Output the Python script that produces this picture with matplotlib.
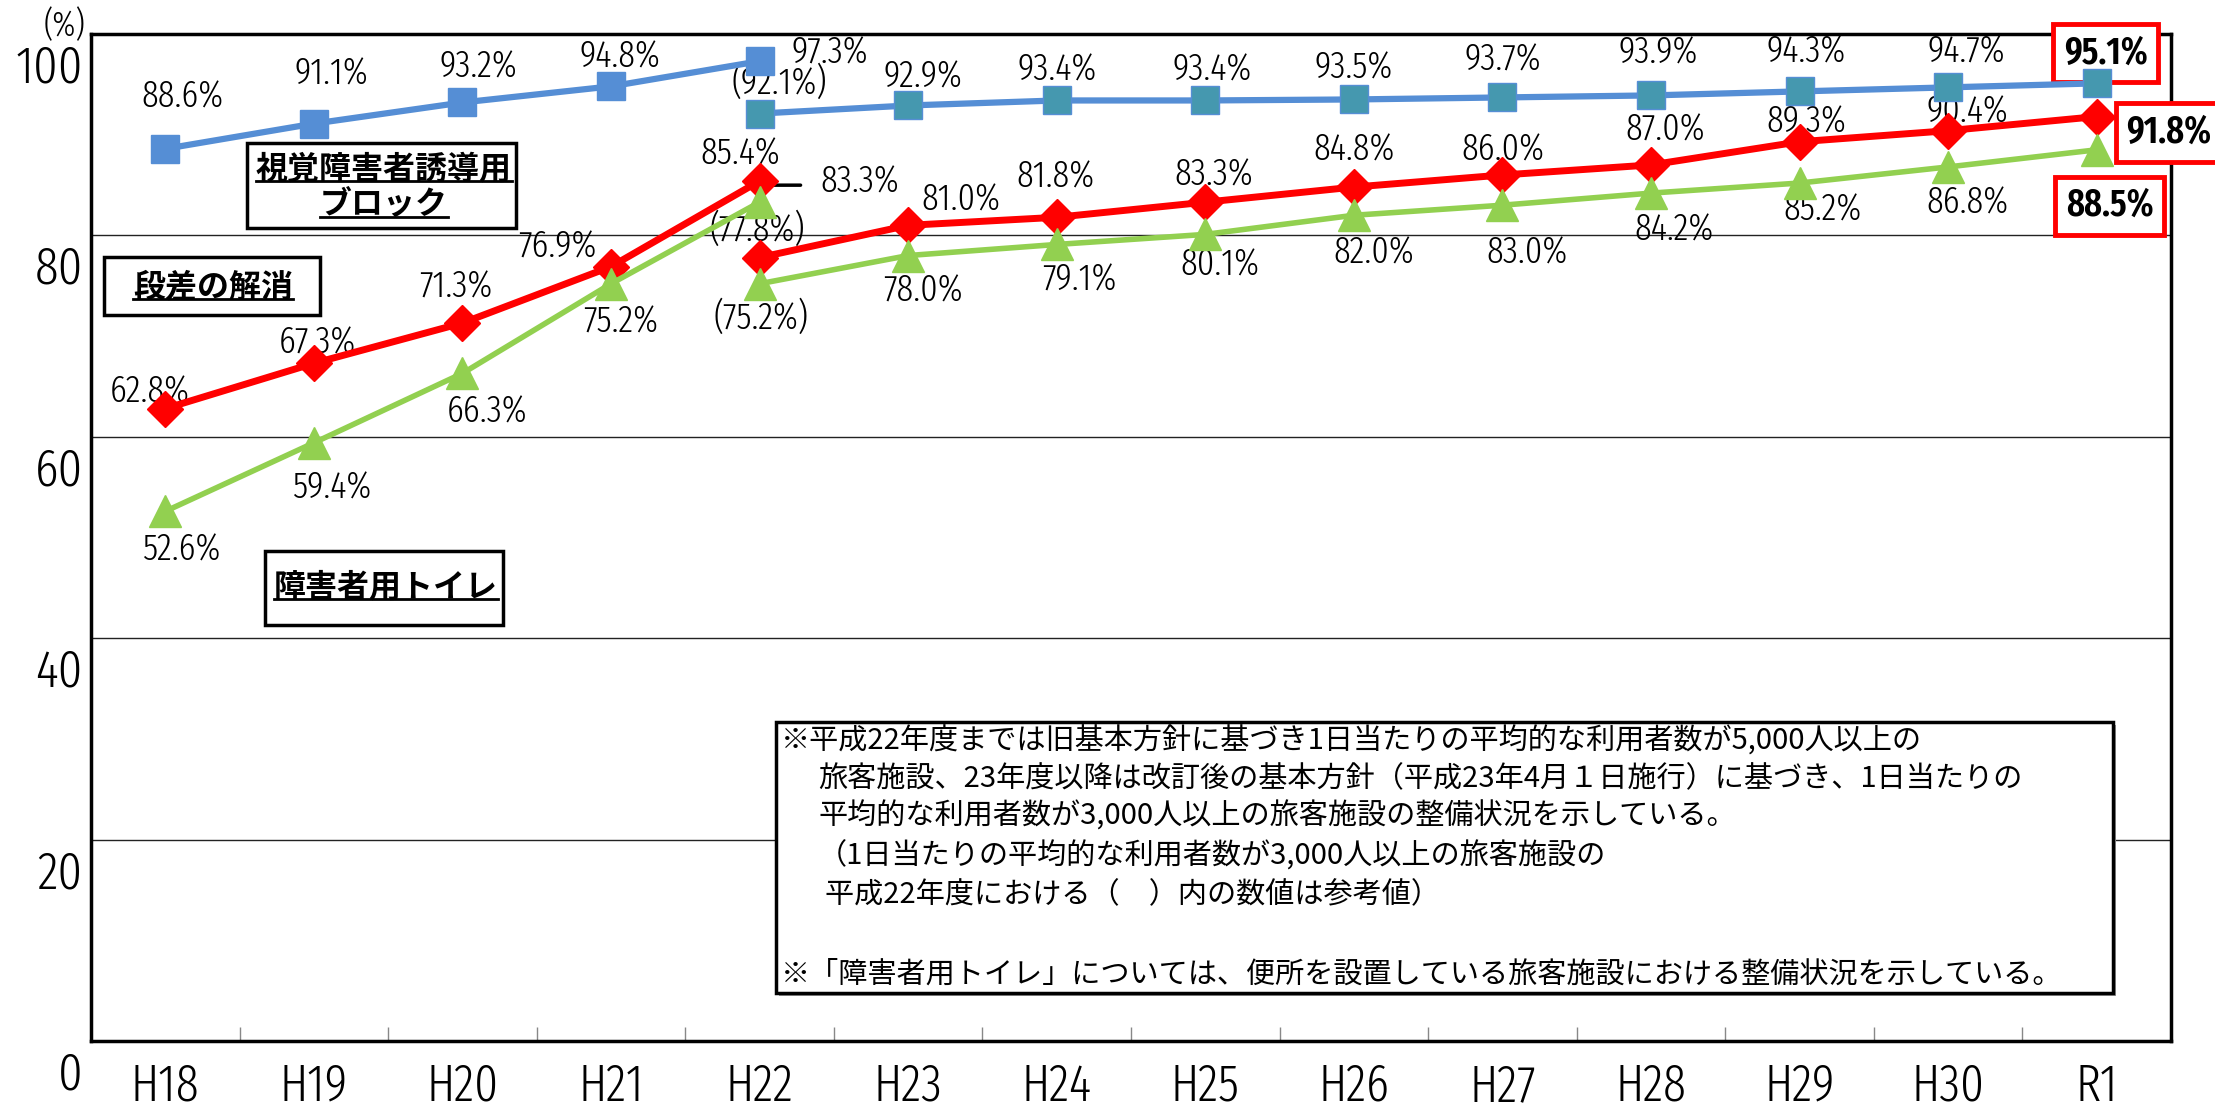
import matplotlib
matplotlib.use('Agg')
import matplotlib.pyplot as plt
import matplotlib.transforms as mtransforms
from matplotlib.patches import Rectangle
from matplotlib.lines import Line2D

# thin condensed face for the figures, CJK face for the Japanese text
plt.rcParams['font.family'] = ['Fira Sans Extra Condensed', 'Noto Sans CJK JP', 'DejaVu Sans']
plt.rcParams['font.weight'] = 300
JP = ['Noto Sans CJK JP', 'DejaVu Sans']

# fiscal years; up to H22 old standard (5,000+ users/day), from H22 new standard (3,000+)
years = ['H18', 'H19', 'H20', 'H21', 'H22', 'H23', 'H24', 'H25', 'H26', 'H27', 'H28', 'H29', 'H30', 'R1']
block_old = [88.6, 91.1, 93.2, 94.8, 97.3]
block_new = [92.1, 92.9, 93.4, 93.4, 93.5, 93.7, 93.9, 94.3, 94.7, 95.1]
step_old = [62.8, 67.3, 71.3, 76.9, 85.4]
step_new = [77.8, 81.0, 81.8, 83.3, 84.8, 86.0, 87.0, 89.3, 90.4, 91.8]
toilet_old = [52.6, 59.4, 66.3, 75.2, 83.3]
toilet_new = [75.2, 78.0, 79.1, 80.1, 82.0, 83.0, 84.2, 85.2, 86.8, 88.5]

notes = [
    '※平成22年度までは旧基本方針に基づき1日当たりの平均的な利用者数が5,000人以上の',
    '旅客施設、23年度以降は改訂後の基本方針（平成23年4月１日施行）に基づき、1日当たりの',
    '平均的な利用者数が3,000人以上の旅客施設の整備状況を示している。',
    '（1日当たりの平均的な利用者数が3,000人以上の旅客施設の',
    '平成22年度における（　）内の数値は参考値）',
    '※「障害者用トイレ」については、便所を設置している旅客施設における整備状況を示している。',
]

BLUE = '#558ED5'
TEAL = '#4598AF'
RED = '#FF0000'
GREEN = '#92D050'

W, H = 2215, 1114
fig = plt.figure(figsize=(W / 100, H / 100), dpi=100)
ax = fig.add_axes([91 / W, 73 / H, 2080 / W, 1007 / H])

x_old = list(range(0, 5))
x_new = list(range(4, 14))

ax.plot(x_old, block_old, color=BLUE, lw=4.5, marker='s', ms=20, mfc=BLUE, mec=BLUE, zorder=3)
ax.plot(x_new, block_new, color=BLUE, lw=4.5, marker='s', ms=20, mfc=TEAL, mec=BLUE, zorder=3)
ax.plot(x_old, step_old, color=RED, lw=5, marker='D', ms=18, mfc=RED, mec=RED, zorder=3)
ax.plot(x_new, step_new, color=RED, lw=5, marker='D', ms=18, mfc=RED, mec=RED, zorder=3)
ax.plot(x_old, toilet_old, color=GREEN, lw=4, marker='^', ms=23, mfc=GREEN, mec=GREEN, zorder=3.1)
ax.plot(x_new, toilet_new, color=GREEN, lw=4, marker='^', ms=23, mfc=GREEN, mec=GREEN, zorder=3.1)


def put_labels(xs, vals, offs, paren_first=False, boxed_last=False):
    for i, (x, v, (dx, dy)) in enumerate(zip(xs, vals, offs)):
        s = f'{v:.1f}%'
        if paren_first and i == 0:
            s = f'({s})'
        kw = dict(fontsize=27)
        if boxed_last and i == len(vals) - 1:
            kw = dict(fontsize=27, fontweight=600,
                      bbox=dict(boxstyle='square,pad=0.28', fc='white', ec=RED, lw=3.5))
        ax.annotate(s, (x, v), xytext=(dx, dy), textcoords='offset pixels',
                    ha='center', va='center', zorder=2.6, annotation_clip=False, **kw)


put_labels(x_old, block_old, [(17, 52), (18, 50), (16, 35), (9, 29), (70, 8)])
put_labels(x_new, block_new, [(20, 31), (15, 28), (0, 30), (7, 30), (0, 31),
                              (0, 37), (7, 42), (7, 39), (18, 35), (9, 30)],
           paren_first=True, boxed_last=True)
put_labels(x_old, step_old, [(-15, 17), (4, 20), (-7, 36), (-54, 20), (-19, 27)])
put_labels(x_new, step_new, [(-2, 28), (53, 25), (-1, 40), (9, 27), (0, 37),
                             (1, 25), (14, 35), (7, 20), (19, 19), (72, -16)],
           paren_first=True, boxed_last=True)
put_labels(x_old, toilet_old, [(16, -39), (18, -45), (25, -39), (10, -38), (100, 20)])
put_labels(x_new, toilet_new, [(1, -34), (15, -36), (23, -36), (15, -31), (20, -38),
                               (25, -48), (23, -37), (23, -27), (19, -36), (13, -56)],
           paren_first=True, boxed_last=True)

# short leader from the H22 toilet point to its label
lead = mtransforms.offset_copy(ax.transData, fig=fig, x=10, y=17, units='dots')
ax.annotate('', xy=(4, toilet_old[4]), xycoords=lead, xytext=(31, 0), textcoords='offset pixels',
            arrowprops=dict(arrowstyle='-', color='black', lw=2.5, shrinkA=0, shrinkB=0),
            zorder=2.6)

# axes
ax.set_xlim(-0.5, 13.5)
ax.set_ylim(0, 100)
ax.set_xticks(range(len(years)))
ax.set_xticklabels(years, fontsize=37)
ax.set_xticks([i + 0.5 for i in range(13)], minor=True)
ax.tick_params(axis='x', which='major', length=0, pad=15)
ax.tick_params(axis='x', which='minor', direction='in', length=10, width=1, color='#888888')
ax.set_yticks([0, 20, 40, 60, 80, 100])
ax.set_yticklabels(['0', '20', '40', '60', '80', '100'], fontsize=38)
ax.tick_params(axis='y', length=0, pad=6)
shift = mtransforms.ScaledTranslation(0, -0.29, fig.dpi_scale_trans)
for lab in ax.get_yticklabels():
    lab.set_transform(lab.get_transform() + shift)
ax.grid(axis='y', color='#222222', lw=1)
ax.set_axisbelow(True)
for sp in ax.spines.values():
    sp.set_linewidth(2.5)
    sp.set_color('black')

fig.text(65 / W, 1 - 26 / H, '(%)', fontsize=25, ha='center', va='center')


def px_x(p):
    return (p - 91) / 2080


def px_y(p):
    return (1041 - p) / 1007


def box(x0, y0, x1, y1, lw=2.5):
    ax.add_patch(Rectangle((px_x(x0), px_y(y1)), px_x(x1) - px_x(x0), px_y(y0) - px_y(y1),
                           transform=ax.transAxes, fc='white', ec='black', lw=lw,
                           zorder=4, clip_on=False))


# series name boxes
box(247, 143, 516, 228)
box(104, 257, 320, 315)
box(265, 551, 503, 625)
names = []
for s, cx, cy in [('視覚障害者誘導用', 384, 169), ('ブロック', 384, 205),
                  ('段差の解消', 213, 287), ('障害者用トイレ', 386, 587)]:
    names.append(ax.text(px_x(cx), px_y(cy), s, transform=ax.transAxes, family=JP,
                         fontsize=23, fontweight='bold', ha='center', va='center', zorder=5))

# note box with shadow
ax.add_patch(Rectangle((px_x(779), px_y(996)), px_x(2116) - px_x(779), px_y(725) - px_y(996),
                       transform=ax.transAxes, fc='#999999', ec='none', zorder=3.9, clip_on=False))
box(776, 722, 2113, 993)
for s, lx, ly in zip(notes, [781, 818, 818, 818, 825, 781], [741, 779, 817, 856, 895, 975]):
    ax.text(px_x(lx), px_y(ly), s, transform=ax.transAxes, family=JP, fontsize=21,
            fontweight='normal', ha='left', va='center', zorder=5)

# underline the series names
fig.canvas.draw()
renderer = fig.canvas.get_renderer()
for t in names:
    bb = t.get_window_extent(renderer)
    y = bb.y0 + 0.12 * bb.height
    fig.add_artist(Line2D([bb.x0, bb.x1], [y, y], transform=mtransforms.IdentityTransform(),
                          color='black', lw=2, zorder=6))

fig.savefig('out.png', dpi=100)
